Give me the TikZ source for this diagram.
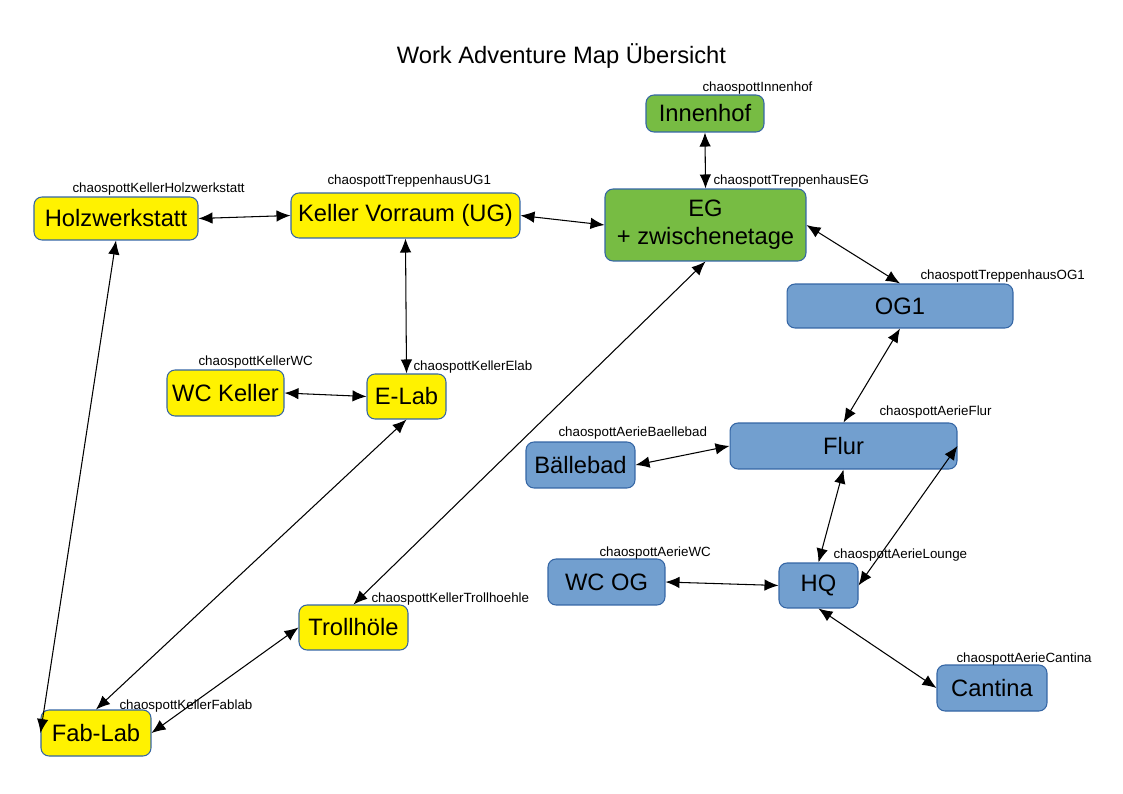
\documentclass[tikz,border=0pt]{standalone}
\usepackage{fontspec}
\setmainfont{Liberation Sans}
\usetikzlibrary{arrows.meta}
\definecolor{kellergelb}{HTML}{FFF200}
\definecolor{egruen}{HTML}{77BC43}
\definecolor{aerieblau}{HTML}{729FCF}
\definecolor{rahmen}{HTML}{3465A4}
\tikzstyle{every node}=[font=\fontsize{13.5}{16}\selectfont]
\tikzstyle{room}=[draw=rahmen,line width=0.6pt,rectangle,rounded corners=0.16cm,align=center,inner sep=0pt]
\tikzstyle{keller}=[room,fill=kellergelb]
\tikzstyle{erd}=[room,fill=egruen]
\tikzstyle{aerie}=[room,fill=aerieblau]
\tikzstyle{tag}=[anchor=west,inner sep=0pt,font=\fontsize{7.6}{9}\selectfont]
\begin{document}
\begin{tikzpicture}[x=0.02cm,y=-0.02cm,>={Latex[length=2.8mm,width=2.3mm]},line width=0.6pt]
  \useasboundingbox (0,0) rectangle (1123,794);
  \node[anchor=base] (title) at (561.5,64) {Work Adventure Map Übersicht};
  % Keller
  \node[keller, minimum width=3.28cm, minimum height=0.86cm] (holz) at (116,218.5) {Holzwerkstatt};
  \node[keller, minimum width=4.58cm, minimum height=0.9cm] (vorraum) at (405.5,215.5) {Keller Vorraum (UG)};
  \node[keller, minimum width=2.34cm, minimum height=0.92cm] (wck) at (225.5,393) {WC Keller};
  \node[keller, minimum width=1.58cm, minimum height=0.9cm] (elab) at (406.5,396.5) {E-Lab};
  \node[keller, minimum width=2.18cm, minimum height=0.9cm] (troll) at (353.5,627.5) {Trollhöle};
  \node[keller, minimum width=2.2cm, minimum height=0.92cm] (fab) at (96,733) {Fab-Lab};
  % EG
  \node[erd, minimum width=2.36cm, minimum height=0.74cm] (innenhof) at (705,113.5) {Innenhof};
  \node[erd, minimum width=4.02cm, minimum height=1.44cm] (eg) at (705.5,225) {EG\\+ zwischenetage};
  % Aerie
  \node[aerie, minimum width=4.52cm, minimum height=0.88cm] (og1) at (900,306) {OG1};
  \node[aerie, minimum width=4.54cm, minimum height=0.92cm] (flur) at (843.5,446) {Flur};
  \node[aerie, minimum width=2.18cm, minimum height=0.92cm] (baelle) at (580.5,465) {Bällebad};
  \node[aerie, minimum width=2.34cm, minimum height=0.92cm] (wcog) at (606.5,582) {WC OG};
  \node[aerie, minimum width=1.58cm, minimum height=0.9cm] (hq) at (818.5,585.5) {HQ};
  \node[aerie, minimum width=2.2cm, minimum height=0.92cm] (cantina) at (992,688) {Cantina};
  % map names
  \node[tag] (tholz) at (72,189) {chaospottKellerHolzwerkstatt};
  \node[tag] (tvorraum) at (327,181.5) {chaospottTreppenhausUG1};
  \node[tag] (tinnenhof) at (702,88) {chaospottInnenhof};
  \node[tag] (teg) at (713,181) {chaospottTreppenhausEG};
  \node[tag] (tog1) at (920,276) {chaospottTreppenhausOG1};
  \node[tag] (twck) at (198,362.5) {chaospottKellerWC};
  \node[tag] (telab) at (413,367) {chaospottKellerElab};
  \node[tag] (tbaelle) at (558,433) {chaospottAerieBaellebad};
  \node[tag] (tflur) at (879,412) {chaospottAerieFlur};
  \node[tag] (twcog) at (599,553) {chaospottAerieWC};
  \node[tag] (thq) at (833,555) {chaospottAerieLounge};
  \node[tag] (ttroll) at (371,599) {chaospottKellerTrollhoehle};
  \node[tag] (tfab) at (119,706) {chaospottKellerFablab};
  \node[tag] (tcantina) at (956,659) {chaospottAerieCantina};
  % Verbindungen
  \draw[<->] (holz.east) -- (vorraum.west);
  \draw[<->] (vorraum.east) -- (eg.west);
  \draw[<->] (innenhof.south) -- (eg.north);
  \draw[<->] (eg.east) -- (og1.north);
  \draw[<->] (og1.south) -- (flur.north);
  \draw[<->] (vorraum.south) -- (elab.north);
  \draw[<->] (wck.east) -- (elab.west);
  \draw[<->] (holz.south) -- (fab.west);
  \draw[<->] (elab.south) -- (fab.north);
  \draw[<->] (eg.south) -- (troll.north);
  \draw[<->] (troll.west) -- (fab.east);
  \draw[<->] (baelle.east) -- (flur.west);
  \draw[<->] (flur.south) -- (hq.north);
  \draw[<->] (flur.east) -- (hq.east);
  \draw[<->] (wcog.east) -- (hq.west);
  \draw[<->] (hq.south) -- (cantina.west);
\end{tikzpicture}
\end{document}
